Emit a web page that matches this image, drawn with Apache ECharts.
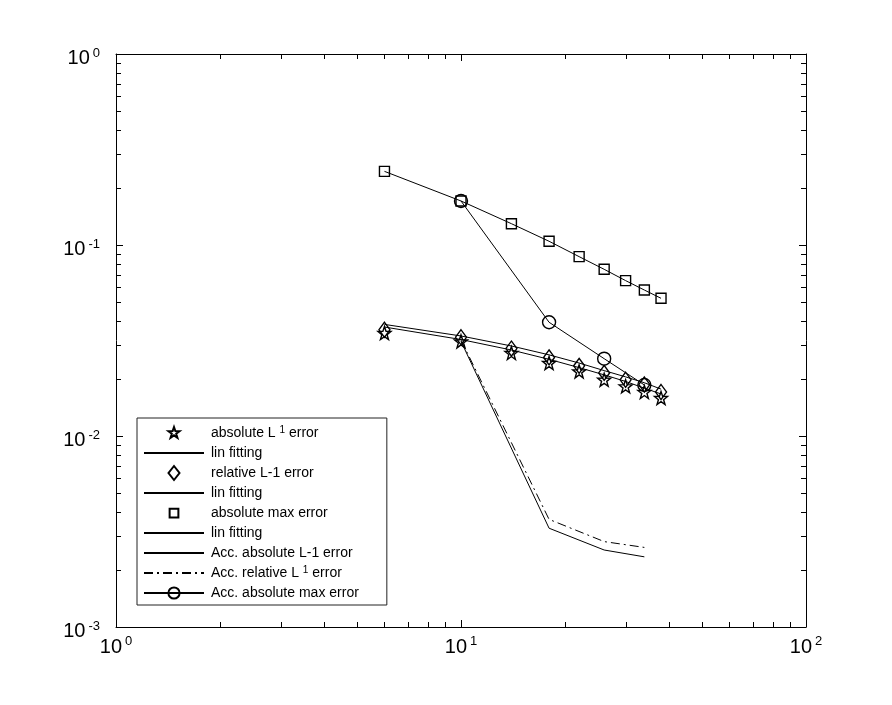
<!DOCTYPE html>
<html>
<head>
<meta charset="utf-8">
<script src="https://cdn.jsdelivr.net/npm/echarts@6/dist/echarts.min.js"></script>
<style>
  html, body { margin: 0; padding: 0; background: #fff; }
  #chart { width: 892px; height: 705px; }
</style>
</head>
<body>
<div id="chart"></div>
<script>
// grid sizes (number of cells)
const gridN = [6, 10, 14, 18, 22, 26, 30, 34, 38];
const accN = [10, 18, 26, 34];

// errors
const absL1Err = [0.0346, 0.0313, 0.0272, 0.0241, 0.0218, 0.0197, 0.0182, 0.0170, 0.0158];
const absL1Fit = [0.0372, 0.0320, 0.0282, 0.0252, 0.0228, 0.0209, 0.0193, 0.0178, 0.0166];
const relL1Err = [0.0360, 0.0329, 0.0287, 0.0258, 0.0233, 0.0214, 0.0197, 0.0186, 0.0170];
const relL1Fit = [0.0384, 0.0334, 0.0296, 0.0266, 0.0241, 0.0220, 0.0204, 0.0190, 0.0176];
const absMaxErr = [0.243, 0.170, 0.1293, 0.1046, 0.0869, 0.0746, 0.0651, 0.0581, 0.0526];
const absMaxFit = [0.243, 0.170, 0.1293, 0.1046, 0.0869, 0.0746, 0.0651, 0.0581, 0.0526];
const accAbsL1 = [0.0313, 0.00329, 0.00253, 0.00233];
const accRelL1 = [0.0318, 0.00366, 0.00280, 0.00261];
const accAbsMax = [0.170, 0.0394, 0.0254, 0.0185];

// minor tick positions
const xMinorTicks = [2, 3, 4, 5, 6, 7, 8, 9, 20, 30, 40, 50, 60, 70, 80, 90];
const yMinorTicks = [0.002, 0.003, 0.004, 0.005, 0.006, 0.007, 0.008, 0.009,
  0.02, 0.03, 0.04, 0.05, 0.06, 0.07, 0.08, 0.09,
  0.2, 0.3, 0.4, 0.5, 0.6, 0.7, 0.8, 0.9];

const X_MIN = 1, X_MAX = 100, Y_MIN = 0.001, Y_MAX = 1;
const FONT = 'Liberation Sans';
const STAR = 'path://M0,-10 L2.35,-3.24 L9.51,-3.09 L3.8,1.24 L5.88,8.09 L0,4 L-5.88,8.09 L-3.8,1.24 L-9.51,-3.09 L-2.35,-3.24 Z';
// legend icons, with invisible move-to points as margin so they keep a MATLAB-like size
const STAR_ICON = 'path://M-12,-12 M12,12 ' + STAR.slice(7);
const DIAMOND_ICON = 'path://M0,-7 L5.5,0 L0,7 L-5.5,0 Z';
const SQUARE_ICON = 'path://M-3,-3 M13,13 M0,0 L10,0 L10,10 L0,10 Z';

const chart = echarts.init(document.getElementById('chart'));

function pairs(xs, ys) {
  return xs.map((x, i) => [x, ys[i]]);
}

function powLabel(v) {
  return '{b|10}{s|' + Math.round(Math.log10(v)) + '}';
}

const labelRich = {
  b: { fontSize: 20, lineHeight: 24, fontFamily: FONT, color: '#000' },
  s: { fontSize: 13, lineHeight: 12, verticalAlign: 'top', fontFamily: FONT, color: '#000', padding: [0, 0, 0, 3] }
};

const hollow = { color: 'rgba(0,0,0,0)', borderColor: '#000', borderWidth: 1.4, opacity: 1 };
const thin = { color: '#000', width: 1 };

function markers(name, data, symbol, size) {
  return {
    name, type: 'scatter', data, symbol, symbolSize: size,
    itemStyle: hollow, z: 4
  };
}

function fitLine(name, data, type) {
  return {
    name, type: 'line', data, symbol: 'none',
    lineStyle: { color: '#000', width: 1, type: type || 'solid' },
    itemStyle: { color: '#000' }, z: 3
  };
}

function tickSeries(values, axis) {
  return {
    type: 'custom', silent: true, z: 5,
    data: values.map(v => axis === 'x' ? [v, Y_MIN] : [X_MIN, v]),
    renderItem: (params, api) => {
      const len = 5;
      const st = { stroke: '#000', lineWidth: 1 };
      if (axis === 'x') {
        const b = api.coord([api.value(0), Y_MIN]);
        const t = api.coord([api.value(0), Y_MAX]);
        const x = Math.round(b[0]) + 0.5;
        return { type: 'group', children: [
          { type: 'line', shape: { x1: x, y1: b[1], x2: x, y2: b[1] - len }, style: st },
          { type: 'line', shape: { x1: x, y1: t[1], x2: x, y2: t[1] + len }, style: st }
        ] };
      }
      const l = api.coord([X_MIN, api.value(1)]);
      const r = api.coord([X_MAX, api.value(1)]);
      const y = Math.round(l[1]) + 0.5;
      return { type: 'group', children: [
        { type: 'line', shape: { x1: l[0], y1: y, x2: l[0] + len, y2: y }, style: st },
        { type: 'line', shape: { x1: r[0], y1: y, x2: r[0] - len, y2: y }, style: st }
      ] };
    }
  };
}

const noSymbol = { opacity: 0 };
const legendItems = [
  { name: 'absolute L-1 error', icon: STAR_ICON },
  { name: 'lin fitting #1', itemStyle: noSymbol },
  { name: 'relative L-1 error', icon: DIAMOND_ICON },
  { name: 'lin fitting #2', itemStyle: noSymbol },
  { name: 'absolute max error', icon: SQUARE_ICON },
  { name: 'lin fitting #3', itemStyle: noSymbol },
  { name: 'Acc. absolute L-1 error', itemStyle: noSymbol },
  { name: 'Acc. relative L-1 error', itemStyle: noSymbol },
  { name: 'Acc. absolute max error' }
];
const legendText = {
  'absolute L-1 error': 'absolute L {sup|1} error',
  'Acc. relative L-1 error': 'Acc. relative L {sup|1} error'
};

const axisBase = {
  type: 'log', logBase: 10, min: X_MIN, max: X_MAX,
  axisLine: { show: true, onZero: false, lineStyle: { color: '#000', width: 1 } },
  axisTick: { show: true, inside: true, length: 7, lineStyle: { color: '#000', width: 1 } },
  splitLine: { show: false }
};

chart.setOption({
  backgroundColor: '#fff',
  animation: false,
  grid: { left: 116, right: 86, top: 54, bottom: 78 },
  xAxis: [
    Object.assign({}, axisBase, {
      position: 'bottom',
      axisLabel: { margin: 8, formatter: powLabel, rich: labelRich }
    }),
    Object.assign({}, axisBase, { position: 'top', axisLabel: { show: false } })
  ],
  yAxis: [
    Object.assign({}, axisBase, {
      min: Y_MIN, max: Y_MAX, position: 'left',
      axisLabel: { margin: 16, padding: [9, 0, 0, 0], formatter: powLabel, rich: labelRich }
    }),
    Object.assign({}, axisBase, { min: Y_MIN, max: Y_MAX, position: 'right', axisLabel: { show: false } })
  ],
  legend: {
    data: legendItems,
    orient: 'vertical',
    left: 137,
    top: 418,
    padding: [7, 28, 4, 6],
    itemWidth: 60,
    itemHeight: 14,
    itemGap: 4,
    symbolKeepAspect: true,
    borderColor: '#222',
    borderWidth: 1,
    backgroundColor: '#fff',
    selectedMode: false,
    formatter: name => legendText[name] || name.replace(/ #\d$/, ''),
    textStyle: {
      fontFamily: FONT, fontSize: 14, lineHeight: 16, color: '#000', padding: [0, 0, 0, 2],
      rich: { sup: { fontFamily: FONT, fontSize: 10, lineHeight: 10, verticalAlign: 'top', color: '#000' } }
    }
  },
  series: [
    markers('absolute L-1 error', pairs(gridN, absL1Err), STAR, 13),
    fitLine('lin fitting #1', pairs(gridN, absL1Fit)),
    markers('relative L-1 error', pairs(gridN, relL1Err), 'diamond', [11, 15]),
    fitLine('lin fitting #2', pairs(gridN, relL1Fit)),
    markers('absolute max error', pairs(gridN, absMaxErr), 'rect', 10),
    fitLine('lin fitting #3', pairs(gridN, absMaxFit)),
    fitLine('Acc. absolute L-1 error', pairs(accN, accAbsL1)),
    fitLine('Acc. relative L-1 error', pairs(accN, accRelL1), [9, 4, 2, 4]),
    {
      name: 'Acc. absolute max error', type: 'line', data: pairs(accN, accAbsMax),
      symbol: 'circle', symbolSize: 13, showSymbol: true,
      lineStyle: thin, itemStyle: hollow, z: 4
    },
    tickSeries(xMinorTicks, 'x'),
    tickSeries(yMinorTicks, 'y')
  ]
});
</script>
</body>
</html>
